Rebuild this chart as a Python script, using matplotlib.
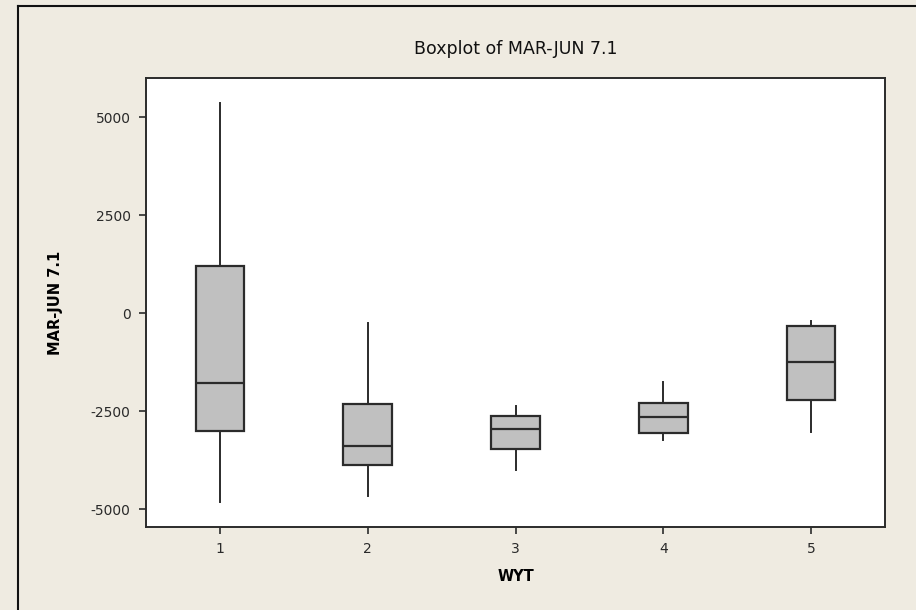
import matplotlib
matplotlib.use("Agg")
import matplotlib.pyplot as plt
from matplotlib.lines import Line2D

# summary statistics per water year type
groups = [1, 2, 3, 4, 5]
whislo = [-4814, -4662, -4010, -3248, -3045]
q1 = [-3019, -3873, -3477, -3070, -2213]
med = [-1780, -3390, -2950, -2663, -1246]
q3 = [1203, -2332, -2620, -2307, -331]
whishi = [5358, -262, -2373, -1763, -196]

yticks = [-5000, -2500, 0, 2500, 5000]

bg = "#EFEBE1"
edge = "#2b2b2b"

plt.rcParams["font.family"] = ["DejaVu Sans"]
plt.rcParams["axes.unicode_minus"] = False

fig = plt.figure(figsize=(9.16, 6.10), dpi=100, facecolor=bg)
ax = fig.add_axes([146 / 916, 1 - 527 / 610, 739 / 916, 449 / 610])
ax.set_facecolor("white")

stats = [
    dict(label=str(g), whislo=lo, q1=a, med=m, q3=b, whishi=hi, fliers=[])
    for g, lo, a, m, b, hi in zip(groups, whislo, q1, med, q3, whishi)
]
ax.bxp(
    stats,
    positions=groups,
    widths=0.33,
    patch_artist=True,
    showcaps=False,
    boxprops=dict(facecolor="#C0C0C0", edgecolor=edge, linewidth=1.6),
    medianprops=dict(color=edge, linewidth=1.6),
    whiskerprops=dict(color=edge, linewidth=1.4),
)

ax.set_xlim(0.5, 5.5)
ax.set_ylim(-5459, 5995)
ax.set_yticks(yticks)
ax.set_xticks(groups)
ax.set_xticklabels([str(g) for g in groups])

for s in ax.spines.values():
    s.set_color(edge)
    s.set_linewidth(1.4)
ax.tick_params(direction="out", length=5, width=1.2, color=edge,
               labelsize=10, labelcolor="#2a2a2a", pad=6)

ax.set_title("Boxplot of MAR-JUN 7.1", fontsize=12.5, color="#111111", pad=17)
ax.set_xlabel("WYT", fontsize=10.5, fontweight="bold", labelpad=9)
ax.set_ylabel("MAR-JUN 7.1", fontsize=10.5, fontweight="bold", labelpad=20)

# outer panel border (top and left edges)
fig.add_artist(Line2D([17.5 / 916, 17.5 / 916], [0, 1 - 5.5 / 610],
                      transform=fig.transFigure, color="#111111", linewidth=1.5))
fig.add_artist(Line2D([17.5 / 916, 1], [1 - 5.5 / 610, 1 - 5.5 / 610],
                      transform=fig.transFigure, color="#111111", linewidth=1.5))

fig.savefig("out.png", dpi=100, facecolor=bg)
